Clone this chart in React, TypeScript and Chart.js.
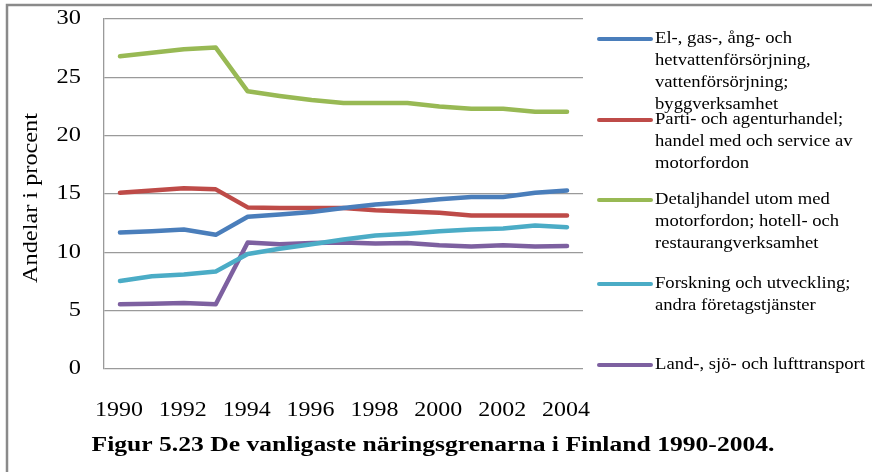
import React, { useEffect, useRef } from "react";
import { Chart, registerables } from "chart.js";

Chart.register(...registerables);

const years = ["1990","1991","1992","1993","1994","1995","1996","1997","1998","1999","2000","2001","2002","2003","2004"];

const seriesNames: string[][] = [
  ["El-, gas-, ång- och", "hetvattenförsörjning,", "vattenförsörjning;", "byggverksamhet"],
  ["Parti- och agenturhandel;", "handel med och service av", "motorfordon"],
  ["Detaljhandel utom med", "motorfordon; hotell- och", "restaurangverksamhet"],
  ["Forskning och utveckling;", "andra företagstjänster"],
  ["Land-, sjö- och lufttransport"],
];

const elGas = [11.7, 11.8, 11.95, 11.5, 13.05, 13.25, 13.45, 13.8, 14.1, 14.3, 14.55, 14.75, 14.75, 15.1, 15.3];
const partihandel = [15.1, 15.3, 15.5, 15.4, 13.85, 13.8, 13.8, 13.8, 13.6, 13.5, 13.4, 13.15, 13.15, 13.15, 13.15];
const detaljhandel = [26.8, 27.1, 27.4, 27.55, 23.8, 23.4, 23.05, 22.8, 22.8, 22.8, 22.5, 22.3, 22.3, 22.05, 22.05];
const forskning = [7.55, 7.95, 8.1, 8.35, 9.85, 10.3, 10.7, 11.1, 11.45, 11.6, 11.8, 11.95, 12.05, 12.3, 12.15];
const transport = [5.55, 5.6, 5.65, 5.55, 10.85, 10.7, 10.8, 10.85, 10.75, 10.8, 10.6, 10.5, 10.6, 10.5, 10.55];

const colors = ["#4A7EBB", "#BE4B48", "#98B954", "#4BACC6", "#7D60A0"];
const yAxisTitle = "Andelar i procent";
const figureTitle = "Figur 5.23 De vanligaste näringsgrenarna i Finland 1990-2004.";

const SERIF = '"Liberation Serif", "DejaVu Serif", serif';

function stretchedText(ctx: any, text: string, x: number, y: number, sx: number) {
  ctx.save();
  ctx.translate(x, y);
  ctx.scale(sx, 1);
  ctx.fillText(text, 0, 0);
  ctx.restore();
}

const decorPlugin = {
  id: "decor",
  beforeDraw(chart: any) {
    const ctx = chart.ctx;
    ctx.save();
    ctx.fillStyle = "#ffffff";
    ctx.fillRect(0, 0, chart.width, chart.height);
    ctx.strokeStyle = "#8a8a8a";
    ctx.lineWidth = 2.5;
    ctx.beginPath();
    ctx.moveTo(7, 472);
    ctx.lineTo(7, 5);
    ctx.lineTo(872, 5);
    ctx.stroke();
    ctx.restore();
  },
  afterDraw(chart: any) {
    const ctx = chart.ctx;
    const xs = chart.scales.x;
    const ys = chart.scales.y;

    // y tick labels (from the scale's ticks)
    ctx.save();
    ctx.fillStyle = "#000";
    ctx.font = `20px ${SERIF}`;
    ctx.textAlign = "right";
    ctx.textBaseline = "middle";
    ys.ticks.forEach((t: any, i: number) => {
      const py = ys.getPixelForTick(i);
      stretchedText(ctx, String(t.label), 81, py, 1.22);
    });
    // x tick labels (every other year)
    ctx.font = `22px ${SERIF}`;
    ctx.textAlign = "center";
    xs.ticks.forEach((_t: any, i: number) => {
      if (i % 2 !== 0) return;
      const px = xs.getPixelForTick(i);
      stretchedText(ctx, years[i], px - 1, 410, 1.09);
    });
    ctx.restore();

    // y axis title
    ctx.save();
    ctx.fillStyle = "#000";
    ctx.font = `22px ${SERIF}`;
    ctx.textAlign = "center";
    ctx.textBaseline = "middle";
    ctx.translate(31, 198);
    ctx.rotate(-Math.PI / 2);
    const wt = ctx.measureText(yAxisTitle).width;
    ctx.scale(170 / wt, 1);
    ctx.fillText(yAxisTitle, 0, 0);
    ctx.restore();

    // figure title
    ctx.save();
    ctx.fillStyle = "#000";
    ctx.font = `bold 20px ${SERIF}`;
    ctx.textAlign = "center";
    ctx.textBaseline = "middle";
    const tw = ctx.measureText(figureTitle).width;
    ctx.translate(433, 446);
    ctx.scale(683 / tw, 1);
    ctx.fillText(figureTitle, 0, 0);
    ctx.restore();

    // legend
    ctx.save();
    ctx.font = `17px ${SERIF}`;
    const refW = ctx.measureText(seriesNames[4][0]).width;
    const sx = 210 / refW;
    const itemY = [39, 120, 200, 284, 365];
    const lineH = 21.8;
    seriesNames.forEach((lines, i) => {
      const y0 = itemY[i];
      ctx.strokeStyle = colors[i];
      ctx.lineWidth = 4;
      ctx.lineCap = "round";
      ctx.beginPath();
      ctx.moveTo(599, y0);
      ctx.lineTo(651, y0);
      ctx.stroke();
      ctx.fillStyle = "#000";
      ctx.textAlign = "left";
      ctx.textBaseline = "middle";
      lines.forEach((ln, j) => stretchedText(ctx, ln, 655, y0 + j * lineH, sx));
    });
    ctx.restore();
  },
};

export default function App() {
  const ref = useRef<HTMLCanvasElement>(null);
  useEffect(() => {
    if (!ref.current) return;
    const data = [elGas, partihandel, detaljhandel, forskning, transport];
    const chart = new Chart(ref.current, {
      type: "line",
      data: {
        labels: years,
        datasets: data.map((d, i) => ({
          label: seriesNames[i].join(" "),
          data: d,
          borderColor: colors[i],
          backgroundColor: colors[i],
          borderWidth: 4.5,
          pointRadius: 0,
          tension: 0,
          borderJoinStyle: "round" as const,
          borderCapStyle: "round" as const,
        })),
      },
      options: {
        responsive: false,
        animation: false,
        devicePixelRatio: 1,
        layout: { padding: { top: 19, right: 289, left: 0, bottom: 0 } },
        plugins: {
          legend: { display: false },
          tooltip: { enabled: false },
        },
        scales: {
          x: {
            type: "category",
            offset: true,
            grid: { display: false, drawTicks: false },
            border: { display: false },
            ticks: {
              autoSkip: false,
              maxRotation: 0,
              padding: 30,
              color: "rgba(0,0,0,0)",
              font: { family: SERIF, size: 22 },
            },
            afterFit: (s: any) => {
              s.height = 103;
              s.paddingTop = 0; s.paddingBottom = 0; s.paddingLeft = 0; s.paddingRight = 0;
            },
          },
          y: {
            min: 0,
            max: 30,
            ticks: {
              stepSize: 5,
              padding: 22,
              color: "rgba(0,0,0,0)",
              font: { family: SERIF, size: 20 },
            },
            grid: { color: "#9a9a9a", lineWidth: 1.3, drawTicks: false },
            border: { display: true, color: "#9a9a9a", width: 1.3 },
            afterFit: (s: any) => {
              s.width = 104;
              s.paddingTop = 0; s.paddingBottom = 0; s.paddingLeft = 0; s.paddingRight = 0;
            },
          },
        },
      },
      plugins: [decorPlugin],
    });
    return () => chart.destroy();
  }, []);
  return (
    <div style={{ position: "absolute", left: 0, top: 0, width: 872, height: 472, background: "#fff" }}>
      <canvas ref={ref} width={872} height={472} style={{ display: "block", width: 872, height: 472 }} />
    </div>
  );
}
